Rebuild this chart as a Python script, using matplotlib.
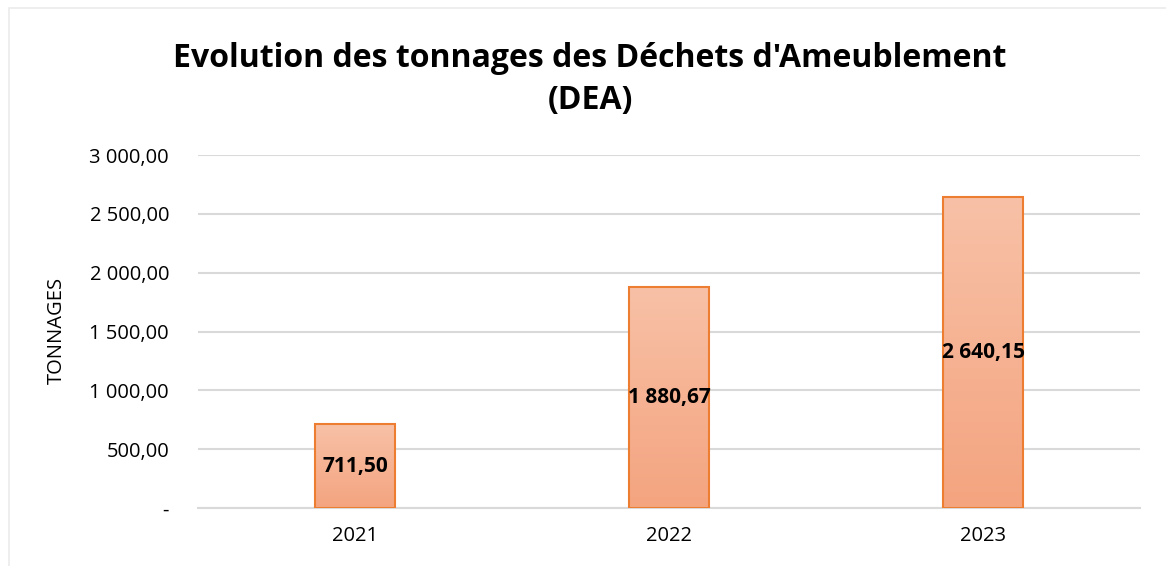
import numpy as np
import matplotlib.pyplot as plt
from matplotlib.ticker import FuncFormatter
from matplotlib.patches import Rectangle

years = ['2021', '2022', '2023']
tonnages = [711.50, 1880.67, 2640.15]


def fr_format(v, pos=None):
    if abs(v) < 1e-9:
        return '-'
    s = f'{v:,.2f}'
    return s.replace(',', ' ').replace('.', ',')


fig = plt.figure(figsize=(11.66, 5.66), dpi=100)
# faint chart frame
fig.patches.append(Rectangle((0.008, -0.01), 1.0, 0.995, transform=fig.transFigure,
                             fill=False, edgecolor='#EBEBEB', lw=1.2))

ax = fig.add_axes([0.17, 0.1025, 0.808, 0.6235])

x = np.arange(len(years))
bars = ax.bar(x, tonnages, width=0.255, color='none', edgecolor='#ED7D31',
              linewidth=1.5, zorder=3)

# vertical gradient fill inside each bar
grad = np.linspace(0, 1, 256).reshape(-1, 1)
cmap = plt.matplotlib.colors.LinearSegmentedColormap.from_list(
    'g', ['#F4A47F', '#F8C1A7'])
for b in bars:
    x0, w, h = b.get_x(), b.get_width(), b.get_height()
    im = ax.imshow(grad, extent=(x0, x0 + w, 0, h), origin='lower', cmap=cmap,
                   aspect='auto', zorder=2)
    im.set_clip_path(b)

for b, v in zip(bars, tonnages):
    ax.text(b.get_x() + b.get_width() / 2, v / 2, fr_format(v), ha='center',
            va='center', fontsize=15, fontweight='bold', family='Open Sans',
            zorder=4)

ax.set_xlim(-0.5, 2.5)
ax.set_ylim(0, 3000)
ax.set_yticks(np.arange(0, 3001, 500))
ax.yaxis.set_major_formatter(FuncFormatter(fr_format))
ax.set_xticks(x)
ax.set_xticklabels(years)
ax.grid(axis='y', color='#D9D9D9', linewidth=1.5, zorder=0)
ax.set_axisbelow(True)
for s in ['top', 'right', 'left']:
    ax.spines[s].set_visible(False)
ax.spines['bottom'].set_color('#D9D9D9')
ax.spines['bottom'].set_linewidth(1.5)
ax.tick_params(axis='both', length=0, labelsize=14.5, colors='#000000')
ax.tick_params(axis='y', pad=21)
ax.tick_params(axis='x', pad=13)
for lab in ax.get_xticklabels() + ax.get_yticklabels():
    lab.set_family('Open Sans')

fig.text(0.049, 0.417, 'TONNAGES', rotation=90, ha='center', va='center',
         fontsize=14.5, family='Open Sans')

fig.text(0.506, 0.859, "Evolution des tonnages des Déchets d'Ameublement\n(DEA)",
         ha='center', va='center', fontsize=23, fontweight='bold',
         family='Open Sans', linespacing=1.35)

fig.savefig('out.png', dpi=100, facecolor='white')
